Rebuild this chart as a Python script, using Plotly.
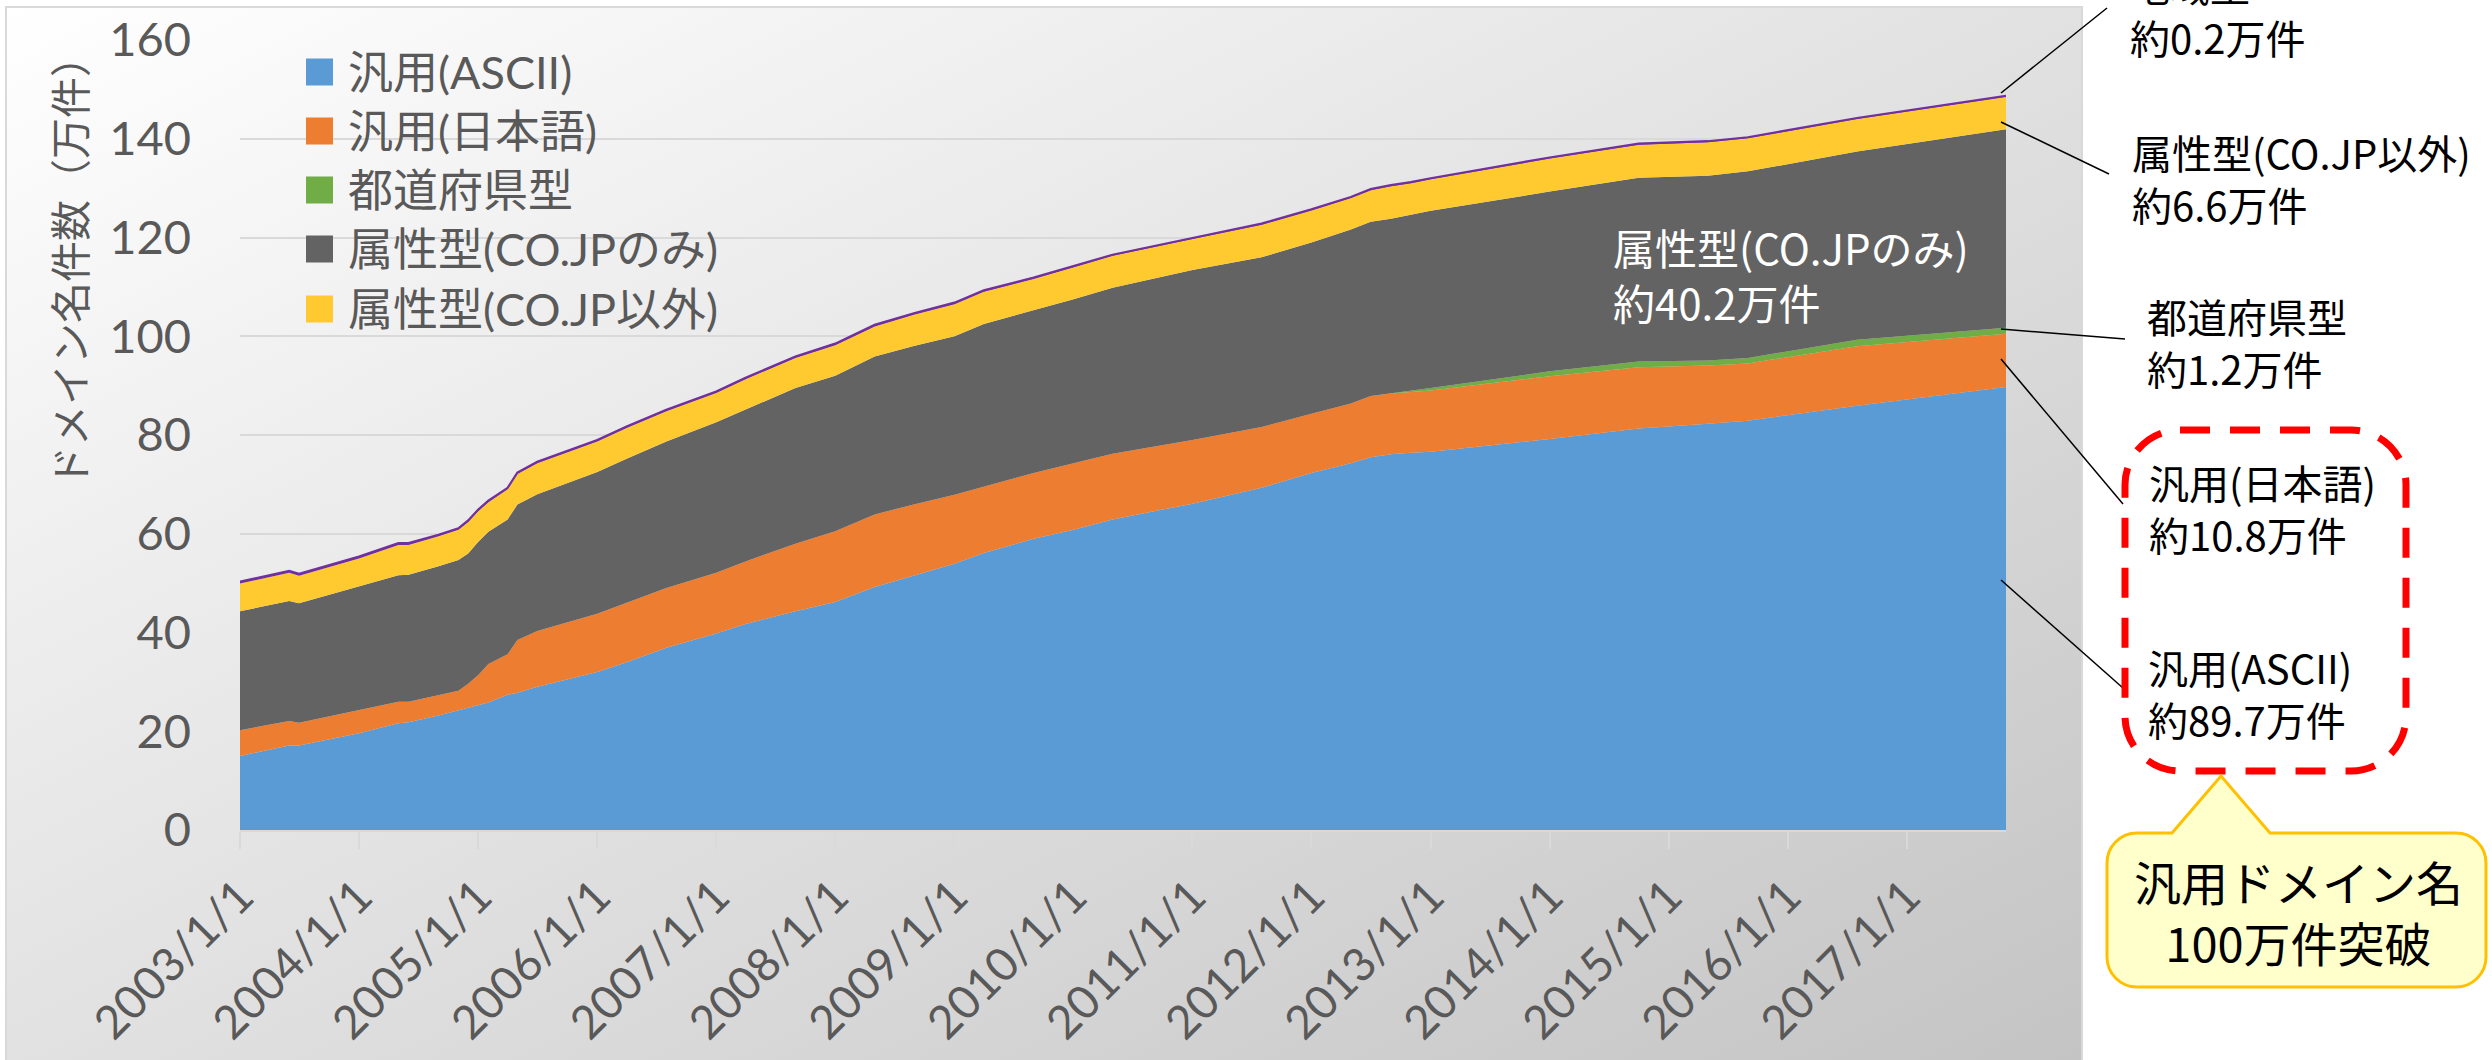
import base64
import plotly.graph_objects as go

# ---------------- data (万件) ----------------
dates = ["2003-01-01", "2003-06-01", "2003-07-01", "2003-10-01", "2004-01-01", "2004-05-01",
         "2004-06-01", "2004-09-01", "2004-11-01", "2004-12-01", "2005-01-01", "2005-02-01",
         "2005-04-01", "2005-05-01", "2005-07-01", "2006-01-01", "2006-04-01", "2006-08-01",
         "2007-01-01", "2007-04-01", "2007-09-01", "2008-01-01", "2008-05-01", "2008-09-01",
         "2009-01-01", "2009-04-01", "2009-09-01", "2010-01-01", "2010-05-01", "2011-01-01",
         "2011-08-01", "2012-01-01", "2012-05-01", "2012-07-01", "2012-09-01", "2012-11-01",
         "2013-01-01", "2014-01-01", "2014-10-01", "2015-05-01", "2015-09-01", "2016-08-01",
         "2017-11-01"]
ascii_vals = [15.0, 17.1, 17.1, 18.4, 19.6, 21.6, 21.8, 23.2, 24.2, 24.8, 25.2, 25.8,
              27.4, 27.8, 29.0, 32.0, 34.0, 36.9, 39.8, 41.7, 44.3, 46.2, 49.2, 51.6,
              53.9, 56.1, 59.0, 60.8, 62.9, 66.1, 69.3, 72.3, 74.3, 75.5, 76.1, 76.4,
              76.6, 79.2, 81.3, 82.3, 82.9, 85.9, 89.7]
jp_vals = [5.2, 5.0, 4.6, 4.6, 4.7, 4.4, 4.2, 4.1, 4.0, 4.8, 6.2, 7.8,
           8.2, 10.7, 11.3, 11.8, 12.0, 12.1, 12.3, 12.7, 13.7, 14.3, 14.7, 14.4,
           14.0, 13.4, 13.3, 13.5, 13.3, 12.9, 12.3, 12.0, 12.1, 12.4, 12.3, 12.3,
           12.4, 12.7, 12.4, 11.8, 11.6, 12.1, 10.8]
pref_vals = [0, 0, 0, 0, 0, 0, 0, 0, 0, 0, 0, 0,
             0, 0, 0, 0, 0, 0, 0, 0, 0, 0, 0, 0,
             0, 0, 0, 0, 0, 0, 0, 0, 0, 0, 0, 0.3,
             0.5, 1.0, 1.2, 1.0, 1.1, 1.3, 1.2]
cojp_vals = [24.1, 24.3, 24.2, 24.6, 25.0, 25.6, 25.7, 26.1, 26.5, 26.4, 27.0, 26.8,
             27.3, 27.4, 27.7, 28.7, 29.2, 29.7, 30.5, 30.8, 31.5, 31.5, 32.0, 32.1,
             32.1, 33.0, 32.9, 33.2, 33.6, 34.4, 34.4, 34.7, 35.2, 35.3, 35.4, 35.6,
             35.9, 36.4, 37.2, 37.4, 37.8, 38.1, 40.2]
other_vals = [5.6, 5.7, 5.6, 5.7, 5.7, 6.1, 6.0, 6.1, 6.1, 6.4, 6.2, 6.0,
              6.1, 6.2, 6.3, 6.2, 6.2, 6.1, 5.9, 6.1, 6.1, 6.2, 6.1, 6.3,
              6.5, 6.5, 6.4, 6.5, 6.5, 6.3, 6.6, 6.5, 6.4, 6.4, 6.6, 6.4,
              6.4, 6.7, 6.7, 6.8, 6.7, 6.6, 6.6]
region_vals = [0.4, 0.4, 0.4, 0.4, 0.4, 0.4, 0.4, 0.3, 0.3, 0.3, 0.3, 0.3,
               0.3, 0.3, 0.3, 0.3, 0.3, 0.3, 0.3, 0.3, 0.3, 0.3, 0.3, 0.3,
               0.3, 0.3, 0.3, 0.2, 0.2, 0.2, 0.2, 0.2, 0.2, 0.2, 0.2, 0.2,
               0.2, 0.2, 0.2, 0.2, 0.2, 0.2, 0.2]

series_names = ["汎用(ASCII)", "汎用(日本語)", "都道府県型", "属性型(CO.JPのみ)", "属性型(CO.JP以外)", "地域型"]
series_colors = ["#5B9BD5", "#ED7D31", "#70AD47", "#636363", "#FFCA30", "#7030A0"]
legend_count = 5

tick_dates = ["2003-01-01", "2004-01-01", "2005-01-01", "2006-01-01", "2007-01-01",
              "2008-01-01", "2009-01-01", "2010-01-01", "2011-01-01", "2012-01-01",
              "2013-01-01", "2014-01-01", "2015-01-01", "2016-01-01", "2017-01-01"]
tick_text = ["2003/1/1", "2004/1/1", "2005/1/1", "2006/1/1", "2007/1/1",
             "2008/1/1", "2009/1/1", "2010/1/1", "2011/1/1", "2012/1/1",
             "2013/1/1", "2014/1/1", "2015/1/1", "2016/1/1", "2017/1/1"]

y_title = "ドメイン名件数（万件）"
end_labels = [
    ("地域型<br>約0.2万件", 2128, 11),
    ("属性型(CO.JP以外)<br>約6.6万件", 2130, 178),
    ("都道府県型<br>約1.2万件", 2145, 342),
    ("汎用(日本語)<br>約10.8万件", 2147, 508),
    ("汎用(ASCII)<br>約89.7万件", 2146, 693),
]
inner_label = "属性型(CO.JPのみ)<br>約40.2万件"
callout_text = "汎用ドメイン名<br>100万件突破"

# ---------------- layout geometry (pixels) ----------------
W, H = 2492, 1060
L, R, T, B = 240, 2492 - 2006, 40, 1060 - 830
PW, PH = W - L - R, H - T - B


def px_x(x):
    return (x - L) / PW


def px_y(y):
    return (H - B - y) / PH


def P(x, y):
    return f"{px_x(x):.5f},{px_y(y):.5f}"


LATIN_CJK = "Lato, 'Noto Sans CJK JP', sans-serif"
CJK = "'Noto Sans CJK JP', 'Noto Sans CJK SC', sans-serif"
GREY_TXT = "#595959"

fig = go.Figure()
all_vals = [ascii_vals, jp_vals, pref_vals, cojp_vals, other_vals, region_vals]
for i, (name, vals, col) in enumerate(zip(series_names, all_vals, series_colors)):
    is_top = i == len(series_names) - 1
    fig.add_trace(go.Scatter(
        x=dates, y=vals, name=name, stackgroup="one", mode="lines",
        line=dict(width=2.2 if is_top else 0, color=col, shape="linear"),
        fillcolor=col, showlegend=False, hoverinfo="x+y+name",
    ))

shapes = []
annotations = []

# chart-area border
shapes.append(dict(type="rect", xref="paper", yref="paper",
                   x0=px_x(6), x1=px_x(2082), y0=px_y(1062), y1=px_y(7),
                   line=dict(color="#d9d9d9", width=2), fillcolor="rgba(0,0,0,0)", layer="below"))

# custom legend
leg_rows = [72, 131, 190, 249, 309]
for i in range(legend_count):
    yc = leg_rows[i]
    shapes.append(dict(type="rect", xref="paper", yref="paper",
                       x0=px_x(306), x1=px_x(333), y0=px_y(yc + 13.5), y1=px_y(yc - 13.5),
                       line=dict(width=0), fillcolor=series_colors[i]))
    annotations.append(dict(xref="paper", yref="paper", x=px_x(346), y=px_y(yc),
                            xanchor="left", yanchor="middle", showarrow=False,
                            text=series_names[i], font=dict(family=LATIN_CJK, size=45, color=GREY_TXT)))

# y axis title
annotations.append(dict(xref="paper", yref="paper", x=px_x(68), y=px_y(262),
                        xanchor="center", yanchor="middle", showarrow=False, textangle=-90,
                        text=y_title, font=dict(family=CJK, size=41, color=GREY_TXT)))

# inner label
annotations.append(dict(xref="paper", yref="paper", x=px_x(1611), y=px_y(274),
                        xanchor="left", yanchor="middle", showarrow=False, align="left",
                        text=inner_label, font=dict(family=CJK, size=42, color="white")))

# right-hand labels
for txt, x, y in end_labels:
    annotations.append(dict(xref="paper", yref="paper", x=px_x(x), y=px_y(y),
                            xanchor="left", yanchor="middle", showarrow=False, align="left",
                            text=txt, font=dict(family=CJK, size=40, color="black")))

# leader lines
leaders = [((2001, 93), (2107, 8)), ((2001, 122), (2109, 174)), ((2001, 329), (2125, 339)),
           ((2001, 359), (2123, 504)), ((2001, 580), (2123, 688))]
for (x0, y0), (x1, y1) in leaders:
    shapes.append(dict(type="line", xref="paper", yref="paper",
                       x0=px_x(x0), y0=px_y(y0), x1=px_x(x1), y1=px_y(y1),
                       line=dict(color="black", width=1.5)))


def rrect_path(x0, y0, x1, y1, r, pointer=None):
    k = 0.5523 * r
    p = f"M{P(x0 + r, y0)} "
    if pointer:
        for (px, py) in pointer:
            p += f"L{P(px, py)} "
    p += (f"L{P(x1 - r, y0)} C{P(x1 - r + k, y0)} {P(x1, y0 + r - k)} {P(x1, y0 + r)} "
          f"L{P(x1, y1 - r)} C{P(x1, y1 - r + k)} {P(x1 - r + k, y1)} {P(x1 - r, y1)} "
          f"L{P(x0 + r, y1)} C{P(x0 + r - k, y1)} {P(x0, y1 - r + k)} {P(x0, y1 - r)} "
          f"L{P(x0, y0 + r)} C{P(x0, y0 + r - k)} {P(x0 + r - k, y0)} {P(x0 + r, y0)} Z")
    return p


# red dashed rounded box
shapes.append(dict(type="path", xref="paper", yref="paper",
                   path=rrect_path(2125, 430, 2406, 771, 55),
                   line=dict(color="#FF0000", width=7, dash="30px,20px"),
                   fillcolor="rgba(0,0,0,0)"))
# yellow callout
shapes.append(dict(type="path", xref="paper", yref="paper",
                   path=rrect_path(2107, 833, 2486, 987, 30,
                                   pointer=[(2172, 833), (2221, 776), (2270, 833)]),
                   line=dict(color="#FFC000", width=3), fillcolor="#FFFFCC"))
annotations.append(dict(xref="paper", yref="paper", x=px_x(2298), y=px_y(911),
                        xanchor="center", yanchor="middle", showarrow=False, align="center",
                        text=callout_text, font=dict(family=CJK, size=47, color="black")))

# gradient background of the chart area
svg = ('<svg xmlns="http://www.w3.org/2000/svg" width="2076" height="1055" viewBox="0 0 2076 1055" '
       'preserveAspectRatio="none"><defs><linearGradient id="g" x1="0" y1="0" x2="1" y2="1">'
       '<stop offset="0" stop-color="#ffffff"/><stop offset="1" stop-color="#c4c4c4"/>'
       '</linearGradient></defs><rect width="2076" height="1055" fill="url(#g)"/></svg>')
src = "data:image/svg+xml;base64," + base64.b64encode(svg.encode()).decode()

fig.update_layout(
    width=W, height=H, autosize=False,
    margin=dict(l=L, r=R, t=T, b=B, pad=0, autoexpand=False),
    paper_bgcolor="white", plot_bgcolor="rgba(0,0,0,0)",
    showlegend=False,
    images=[dict(source=src, xref="paper", yref="paper", x=px_x(6), y=px_y(7),
                 sizex=(2082 - 6) / PW, sizey=(1062 - 7) / PH, xanchor="left", yanchor="top",
                 sizing="stretch", layer="below")],
    shapes=shapes, annotations=annotations,
    xaxis=dict(type="date", range=[dates[0], dates[-1]], tickvals=tick_dates, ticktext=tick_text,
               tickangle=-45, ticks="outside", ticklen=17, tickwidth=2, tickcolor="#d9d9d9",
               showgrid=False, showline=True, linecolor="#d9d9d9", linewidth=2,
               zeroline=False, automargin=False, ticklabelstandoff=2,
               tickfont=dict(family=LATIN_CJK, size=46, color=GREY_TXT)),
    yaxis=dict(range=[0, 160], dtick=20, tick0=0, showgrid=True, gridcolor="#d9d9d9", gridwidth=2,
               zeroline=False, showline=False, ticks="", automargin=False, ticklabelstandoff=48,
               tickfont=dict(family=LATIN_CJK, size=47, color=GREY_TXT)),
)

fig.write_html("out.html")
